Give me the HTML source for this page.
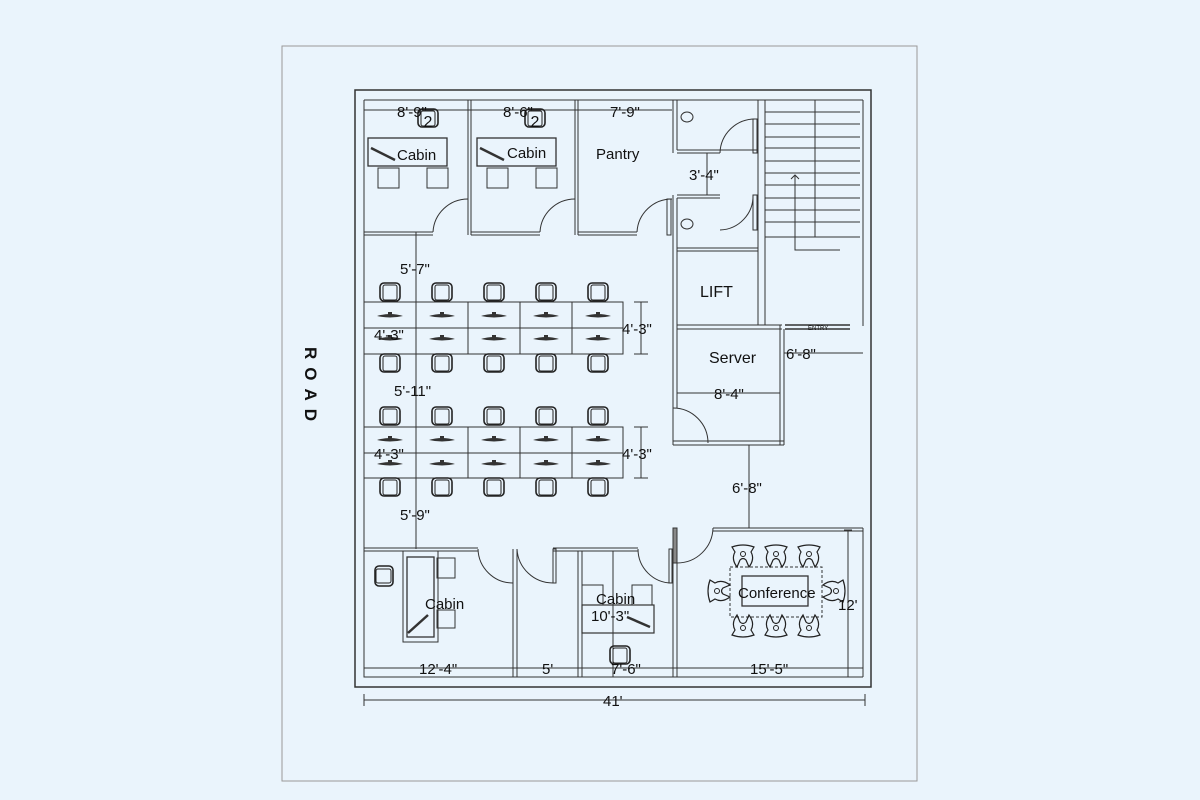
<!DOCTYPE html>
<html><head><meta charset="utf-8"><style>
html,body{margin:0;padding:0;background:#eaf4fc;}
svg{display:block}
text{font-family:"Liberation Sans",sans-serif;fill:#111}
</style></head><body>
<svg width="1200" height="800" viewBox="0 0 1200 800" xmlns="http://www.w3.org/2000/svg">
<defs>
<g id="ch"><rect x="-10" y="-9" width="20" height="18" rx="4" fill="none" stroke="#222" stroke-width="1.6"/><rect x="-7" y="-7" width="14" height="15" rx="2" fill="none" stroke="#222" stroke-width="1"/></g>
<g id="kb"><path d="M-13,0 Q0,-4 13,0 Q0,3 -13,0Z" fill="#333"/><rect x="-2" y="-4" width="4" height="3" fill="#333"/></g>
<g id="cc"><path d="M-11,-10 Q0,-14 11,-10 L8,-5 Q12,2 6,10 L3,3 Q0,0 -3,3 L-6,10 Q-12,2 -8,-5Z" fill="none" stroke="#222" stroke-width="1.2"/><circle cx="0" cy="-3" r="2.5" fill="none" stroke="#222"/></g>
</defs>
<rect x="282" y="46" width="635" height="735" fill="#eaf4fc" stroke="#999" stroke-width="1"/>
<g fill="none" stroke="#333" stroke-width="1">
<!-- outer walls -->
<rect x="355" y="90" width="516" height="597" stroke-width="1.5"/>
<path d="M364,100 H863 M364,100 V677 H863"/>
<path d="M863,100 V326 M863,528 V677"/>
<!-- top rooms -->
<path d="M364,232 H433 M364,235 H433"/>
<path d="M468,100 V235 M471,100 V235"/>
<path d="M471,232 H540 M471,235 H540"/>
<path d="M575,100 V235 M578,100 V235"/>
<path d="M578,232 H637 M578,235 H637"/>
<path d="M433,232 A35,35 0 0 1 468,199"/>
<path d="M540,232 A35,35 0 0 1 575,199"/>
<path d="M637,232 A35,35 0 0 1 672,199"/>
<rect x="667" y="199" width="4" height="36" stroke="#333"/>
<!-- toilets -->
<path d="M673,100 V153 M677,100 V150 M677,150 H758 M677,153 H720"/>
<path d="M673,195 V445 M677,198 V408"/>
<path d="M677,195 H720 M677,198 H720"/>
<path d="M720,153 A35,35 0 0 1 755,119"/>
<rect x="753" y="119" width="4" height="34"/>
<path d="M753,195 A34,34 0 0 1 720,230" />
<rect x="753" y="195" width="4" height="35"/>
<path d="M677,248 H758 M677,251 H758"/>
<path d="M707,153 V195 M703,153 H711 M703,195 H711"/>
<ellipse cx="687" cy="117" rx="6" ry="5"/><ellipse cx="687" cy="224" rx="6" ry="5"/>
<!-- stairs -->
<path d="M758,100 V325 M765,100 V325"/>
<path d="M765,112 H860 M765,124 H860 M765,137 H860 M765,148 H860 M765,161 H860 M765,173 H860 M765,185 H860 M765,198 H860 M765,210 H860 M765,222 H860 M765,237 H860"/>
<path d="M815,100 V237 M795,175 V250 H840 M791,179 L795,175 L799,179"/>
<!-- server / entry -->
<path d="M677,325 H782 M677,329 H782 M780,325 V445 M784,329 V445"/>
<path d="M785,325 H850 M785,329 H850" stroke-width="1.5"/>
<path d="M673,408 A35,35 0 0 1 708,443"/>
<path d="M673,441 H784 M673,445 H784"/>
<path d="M784,353 H863 M677,393 H780"/>
<path d="M749,445 V528"/>
<!-- conference -->
<path d="M713,528 H863 M713,531 H863"/>
<rect x="673" y="528" width="4" height="35" fill="#888"/>
<path d="M673,563 V677 M677,563 V677"/>
<path d="M677,563 A36,36 0 0 0 713,528"/>
<path d="M848,530 V677 M844,530 H852"/>
<!-- bottom rooms -->
<path d="M364,548 H478 M364,551 H478"/>
<path d="M478,549 A35,35 0 0 0 513,583"/>
<path d="M513,549 V677 M517,549 V677"/>
<path d="M517,549 A36,36 0 0 0 553,583"/>
<rect x="553" y="549" width="3" height="34"/>
<path d="M553,548 H638 M553,551 H638"/>
<path d="M638,549 A34,34 0 0 0 672,583"/>
<rect x="669" y="549" width="3" height="34"/>
<path d="M578,551 V677 M582,551 V677"/>
<path d="M613,551 V677"/>
<!-- dims -->
<path d="M364,110 H672"/>
<path d="M364,668 H863"/>
<path d="M364,700 H865 M364,694 V706 M865,694 V706"/>
<path d="M416,232 V302 M416,354 V427 M416,478 V549"/>
<path d="M641,302 V354 M634,302 H648 M634,354 H648 M641,427 V478 M634,427 H648 M634,478 H648"/>
<!-- workstations -->
<rect x="364" y="302" width="259" height="52"/><path d="M364,328 H623 M416,302 V354 M468,302 V354 M520,302 V354 M572,302 V354"/>
<rect x="364" y="427" width="259" height="51"/><path d="M364,453 H623 M416,427 V478 M468,427 V478 M520,427 V478 M572,427 V478"/>
<!-- top cabins furniture -->
<rect x="368" y="138" width="79" height="28" stroke-width="1.3"/><rect x="378" y="168" width="21" height="20"/><rect x="427" y="168" width="21" height="20"/>
<rect x="477" y="138" width="79" height="28" stroke-width="1.3"/><rect x="487" y="168" width="21" height="20"/><rect x="536" y="168" width="21" height="20"/>
<!-- bottom cabin -->
<rect x="403" y="551" width="35" height="91"/><rect x="407" y="557" width="27" height="80" stroke-width="1.3"/>
<rect x="437" y="558" width="18" height="20"/><rect x="437" y="610" width="18" height="18"/>
<rect x="582" y="585" width="21" height="20"/><rect x="632" y="585" width="20" height="20"/>
<rect x="582" y="605" width="72" height="28" stroke-width="1.2"/>
<rect x="742" y="576" width="66" height="30" stroke-width="1.3"/>
<rect x="730" y="567" width="92" height="50" stroke-dasharray="3,2"/>
<path d="M408,633 L428,615 M371,148 L395,160 M480,148 L504,160 M627,617 L650,627" stroke-width="2.5"/>
</g>
<!-- chairs -->
<use href="#ch" x="428" y="118"/><use href="#ch" x="535" y="118"/>
<g id="r1"><use href="#ch" x="390" y="292"/><use href="#ch" x="442" y="292"/><use href="#ch" x="494" y="292"/><use href="#ch" x="546" y="292"/><use href="#ch" x="598" y="292"/></g>
<use href="#r1" y="71"/><use href="#r1" y="124"/><use href="#r1" y="195"/>
<g id="k1"><use href="#kb" x="390" y="316"/><use href="#kb" x="442" y="316"/><use href="#kb" x="494" y="316"/><use href="#kb" x="546" y="316"/><use href="#kb" x="598" y="316"/></g>
<use href="#k1" y="23"/><use href="#k1" y="124"/><use href="#k1" y="148"/>
<use href="#ch" x="384" y="576" transform="rotate(90 384 576)"/>
<use href="#ch" x="620" y="655"/>
<use href="#cc" x="743" y="557"/><use href="#cc" x="776" y="557"/><use href="#cc" x="809" y="557"/>
<use href="#cc" x="743" y="625" transform="rotate(180 743 625)"/><use href="#cc" x="776" y="625" transform="rotate(180 776 625)"/><use href="#cc" x="809" y="625" transform="rotate(180 809 625)"/>
<use href="#cc" x="720" y="591" transform="rotate(-90 720 591)"/><use href="#cc" x="833" y="591" transform="rotate(90 833 591)"/>
<!-- text -->
<g font-size="15">
<text x="397" y="117">8'-9"</text><text x="503" y="117">8'-6"</text><text x="610" y="117">7'-9"</text>
<text x="428" y="127" font-size="16" text-anchor="middle">2</text><text x="535" y="127" font-size="16" text-anchor="middle">2</text>
<text x="397" y="160">Cabin</text><text x="507" y="158">Cabin</text><text x="596" y="159">Pantry</text>
<text x="689" y="180">3'-4"</text>
<text x="700" y="297" font-size="16">LIFT</text>
<text x="709" y="363" font-size="16">Server</text>
<text x="786" y="359">6'-8"</text><text x="714" y="399">8'-4"</text><text x="732" y="493">6'-8"</text>
<text x="400" y="274">5'-7"</text><text x="394" y="396">5'-11"</text><text x="400" y="520">5'-9"</text>
<text x="374" y="340">4'-3"</text><text x="374" y="459">4'-3"</text>
<text x="622" y="334">4'-3"</text><text x="622" y="459">4'-3"</text>
<text x="425" y="609">Cabin</text><text x="596" y="604">Cabin</text><text x="591" y="621">10'-3"</text>
<text x="738" y="598">Conference</text><text x="838" y="610">12'</text>
<text x="419" y="674">12'-4"</text><text x="542" y="674">5'</text><text x="611" y="674">7'-6"</text><text x="750" y="674">15'-5"</text>
<text x="603" y="706">41'</text>
</g>
<text x="808" y="330" font-size="6">ENTRY</text>
<text transform="translate(305,388) rotate(90)" font-size="17" font-weight="bold" text-anchor="middle" letter-spacing="8">ROAD</text>
</svg>
</body></html>
